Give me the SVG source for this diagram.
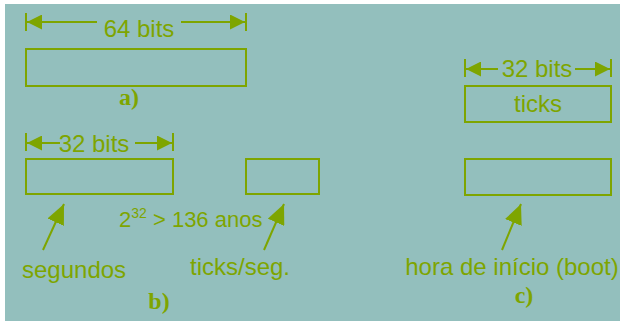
<svg xmlns="http://www.w3.org/2000/svg" width="620" height="321" viewBox="0 0 620 321">
<defs>
<style>
.g{fill:none;stroke:#7ea500;stroke-width:2}
.t{fill:#7ea500;font-family:"Liberation Sans",Arial,sans-serif;font-size:24px}
.l{fill:#7ea500;font-family:"Liberation Serif","Times New Roman",serif;font-size:24px;font-weight:bold;text-anchor:middle}
.ah{fill:#7ea500}
</style>
<marker id="dim" viewBox="0 0 15 15" refX="15" refY="7.5" markerWidth="15" markerHeight="15" markerUnits="userSpaceOnUse" orient="auto-start-reverse">
<path d="M0,0 L15,7.5 L0,15 Z" class="ah"/>
</marker>
<marker id="ptr" viewBox="0 0 20 18" refX="20" refY="9" markerWidth="20" markerHeight="18" markerUnits="userSpaceOnUse" orient="auto">
<path d="M0,0 L20,9 L0,18 Z" class="ah"/>
</marker>
</defs>
<rect x="0" y="0" width="620" height="321" fill="#ffffff"/>
<rect x="5" y="4" width="615" height="317" fill="#93bfbd"/>

<g id="connectors">
<!-- a) 64 bits -->
<line class="g" x1="26" y1="13" x2="26" y2="31"/>
<line class="g" x1="246" y1="13" x2="246" y2="31"/>
<line class="g" x1="97" y1="22" x2="27" y2="22" marker-end="url(#dim)"/>
<line class="g" x1="181" y1="22" x2="245" y2="22" marker-end="url(#dim)"/>
<!-- b) 32 bits -->
<line class="g" x1="26" y1="133" x2="26" y2="151"/>
<line class="g" x1="173" y1="133" x2="173" y2="151"/>
<line class="g" x1="60" y1="143" x2="27" y2="143" marker-end="url(#dim)"/>
<line class="g" x1="135" y1="143" x2="172" y2="143" marker-end="url(#dim)"/>
<!-- c) 32 bits -->
<line class="g" x1="465" y1="59" x2="465" y2="77"/>
<line class="g" x1="611" y1="59" x2="611" y2="77"/>
<line class="g" x1="498" y1="69" x2="466" y2="69" marker-end="url(#dim)"/>
<line class="g" x1="575" y1="69" x2="610" y2="69" marker-end="url(#dim)"/>
<!-- pointers -->
<line class="g" x1="43" y1="250" x2="64" y2="204" marker-end="url(#ptr)"/>
<line class="g" x1="264" y1="250" x2="284" y2="204" marker-end="url(#ptr)"/>
<line class="g" x1="502" y1="250" x2="521" y2="204" marker-end="url(#ptr)"/>
</g>

<g id="node-a">
<rect class="g" x="26" y="49" width="220" height="37"/>
<text class="t" x="139" y="37" text-anchor="middle">64 bits</text>
<text class="l" x="129" y="105">a)</text>
</g>

<g id="node-b-seg">
<rect class="g" x="26" y="159" width="147" height="35"/>
<text class="t" x="94" y="152" text-anchor="middle">32 bits</text>
</g>
<g id="node-b-ticks">
<rect class="g" x="246" y="159" width="73" height="35"/>
</g>
<g id="labels-b">
<text class="t" x="119" y="227" style="font-size:22px">2<tspan dy="-9" style="font-size:14px">32</tspan><tspan dy="9"> &gt; 136 anos</tspan></text>
<text class="t" x="22" y="278">segundos</text>
<text class="t" x="190" y="275">ticks/seg.</text>
<text class="l" x="159" y="309">b)</text>
</g>

<g id="node-c-ticks">
<rect class="g" x="465" y="86" width="146" height="36"/>
<text class="t" x="537" y="77" text-anchor="middle">32 bits</text>
<text class="t" x="538" y="112" text-anchor="middle">ticks</text>
</g>
<g id="node-c-boot">
<rect class="g" x="465" y="159" width="146" height="36"/>
</g>
<g id="labels-c">
<text class="t" x="512" y="275" text-anchor="middle">hora de início (boot)</text>
<text class="l" x="524" y="303">c)</text>
</g>
</svg>
